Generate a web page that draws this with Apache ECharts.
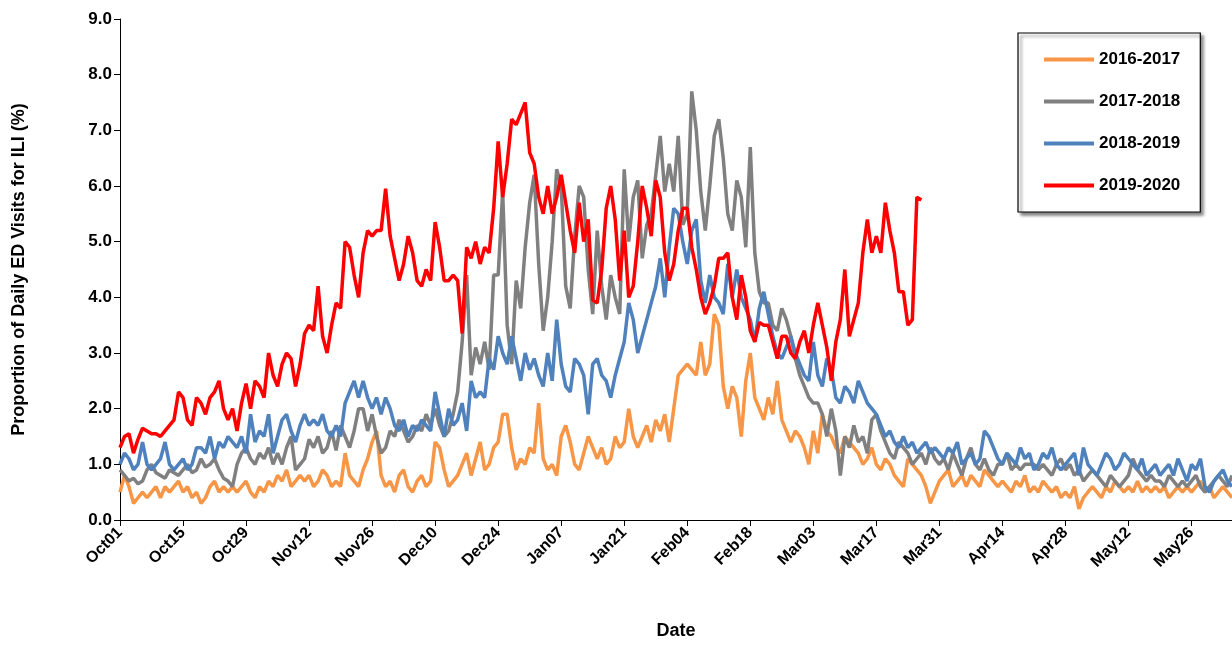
<!DOCTYPE html>
<html>
<head>
<meta charset="utf-8">
<script src="https://cdn.jsdelivr.net/npm/echarts@6/dist/echarts.min.js"></script>
<style>html,body{margin:0;background:#fff}#c{width:1232px;height:645px}</style>
</head>
<body>
<div id="c"></div>
<script>
// ========= 数据 =========
const s1617 = [
 0.5,0.8,0.6,0.3,0.4,0.5,0.4, 0.5,0.6,0.4,0.6,0.5,0.6,0.7, 0.5,0.6,0.4,0.5,0.3,0.4,0.6,
 0.7,0.5,0.6,0.5,0.6,0.5,0.6, 0.7,0.5,0.4,0.6,0.5,0.7,0.6, 0.8,0.7,0.9,0.6,0.7,0.8,0.7,
 0.8,0.6,0.7,0.9,0.8,0.6,0.7, 0.6,1.2,0.8,0.7,0.6,0.9,1.1, 1.4,1.6,0.8,0.6,0.7,0.5,0.8,
 0.9,0.6,0.5,0.7,0.8,0.6,0.7, 1.4,1.3,0.9,0.6,0.7,0.8,1.0, 1.2,0.8,1.1,1.4,0.9,1.0,1.3,
 1.4,1.9,1.9,1.3,0.9,1.1,1.0, 1.3,1.2,2.1,1.1,0.9,1.0,0.8, 1.5,1.7,1.4,1.0,0.9,1.2,1.5,
 1.3,1.1,1.3,1.0,1.1,1.5,1.3, 1.4,2.0,1.5,1.3,1.5,1.7,1.4, 1.8,1.6,1.9,1.4,2.0,2.6,2.7,
 2.8,2.7,2.6,3.2,2.6,2.8,3.7, 3.5,2.4,2.0,2.4,2.2,1.5,2.5, 3.0,2.2,2.0,1.8,2.2,1.9,2.5,
 1.8,1.6,1.4,1.6,1.5,1.3,1.0, 1.6,1.2,1.9,1.6,1.5,1.3,1.2, 1.5,1.4,1.3,1.2,1.0,1.1,1.3,
 1.0,0.9,1.1,1.0,0.8,0.7,0.6, 1.1,1.0,0.9,0.8,0.6,0.3,0.5, 0.7,0.8,0.9,0.6,0.7,0.8,0.6,
 0.8,0.7,0.6,0.9,0.8,0.7,0.6, 0.7,0.6,0.5,0.7,0.6,0.8,0.5, 0.6,0.5,0.7,0.6,0.5,0.6,0.4,
 0.5,0.4,0.6,0.2,0.4,0.5,0.6, 0.5,0.4,0.6,0.5,0.7,0.6,0.5, 0.6,0.5,0.7,0.5,0.6,0.5,0.6,
 0.5,0.6,0.4,0.5,0.6,0.5,0.6, 0.5,0.6,0.7,0.5,0.6,0.4,0.5, 0.6,0.5,0.4
];
const s1718 = [
 0.9,0.8,0.7,0.75,0.65,0.7,0.9, 1.0,0.85,0.8,0.75,0.9,0.85,0.8, 0.9,1.0,0.85,0.9,1.1,0.95,1.0,
 1.1,0.9,0.75,0.7,0.6,1.0,1.2, 1.3,1.1,1.0,1.2,1.1,1.3,1.0, 1.2,1.0,1.3,1.5,0.9,1.0,1.1,
 1.45,1.3,1.5,1.2,1.3,1.6,1.25, 1.7,1.5,1.3,1.6,2.0,2.0,1.6, 1.9,1.5,1.2,1.3,1.6,1.5,1.8,
 1.6,1.4,1.5,1.7,1.6,1.9,1.7, 2.0,1.7,1.5,1.6,1.9,2.3,3.2, 4.4,2.6,3.1,2.8,3.2,2.7,4.4,
 4.4,5.9,3.5,2.8,4.3,3.8,4.9, 5.7,6.2,4.6,3.4,4.0,5.0,6.3, 6.0,4.2,3.8,5.1,6.0,5.8,4.5,
 3.7,5.2,4.2,3.6,4.4,4.0,3.7, 6.3,5.0,5.8,6.1,4.7,5.3,5.5, 6.2,6.9,5.9,6.4,5.9,6.9,5.3,
 5.5,7.7,7.0,5.9,5.2,6.0,6.9, 7.2,6.5,5.5,5.2,6.1,5.8,4.9, 6.7,4.8,4.1,3.9,3.9,3.5,3.4,
 3.8,3.6,3.3,2.9,2.6,2.4,2.2, 2.1,2.1,1.9,1.5,2.0,1.6,0.8, 1.5,1.3,1.7,1.4,1.5,1.2,1.8,
 1.9,1.6,1.4,1.2,1.1,1.4,1.3, 1.2,1.0,1.1,1.2,1.0,1.3,1.1, 1.0,1.1,0.9,1.2,1.0,0.8,1.1,
 1.3,1.0,0.9,1.1,0.9,0.8,1.0, 1.0,1.2,0.9,1.0,0.9,1.0,1.0, 1.0,0.9,1.0,0.9,0.8,1.0,1.1,
 0.9,1.0,0.8,0.9,0.7,0.8,0.9, 0.8,0.7,0.6,0.8,0.7,0.6,0.7, 0.8,1.1,0.9,0.8,0.7,0.8,0.7,
 0.7,0.6,0.8,0.7,0.6,0.7,0.6, 0.7,0.8,0.6,0.5,0.6,0.7,0.8, 0.7,0.6,0.8
];
const s1819 = [
 1.0,1.2,1.1,0.9,1.0,1.4,1.0, 0.9,1.0,1.1,1.4,1.0,0.9,1.0, 1.1,0.9,1.0,1.3,1.3,1.2,1.5,
 1.1,1.4,1.3,1.5,1.4,1.3,1.5, 1.2,1.9,1.4,1.6,1.5,1.9,1.2, 1.5,1.8,1.9,1.6,1.4,1.7,1.9,
 1.7,1.8,1.7,1.9,1.6,1.5,1.7, 1.5,2.1,2.3,2.5,2.2,2.5,2.2, 2.0,2.2,1.9,2.2,2.0,1.7,1.6,
 1.8,1.5,1.7,1.6,1.8,1.7,1.6, 2.3,1.9,1.5,2.0,1.7,1.8,2.1, 1.6,2.5,2.2,2.3,2.2,2.9,2.7,
 3.3,3.0,2.8,3.3,2.9,2.5,3.0, 2.7,2.9,2.6,2.4,3.0,2.5,3.6, 2.8,2.4,2.3,2.9,2.8,2.6,1.9,
 2.8,2.9,2.6,2.5,2.2,2.6,2.9, 3.2,3.9,3.6,3.0,3.3,3.6,3.9, 4.2,4.7,4.0,4.9,5.6,5.5,5.0,
 4.6,5.2,5.4,4.3,3.9,4.4,4.0, 3.9,3.7,4.6,4.0,4.5,4.0,3.8, 3.6,3.2,3.8,4.1,3.7,3.3,3.0,
 2.9,3.1,3.3,3.0,2.8,2.6,2.5, 3.2,2.6,2.4,2.9,2.7,2.2,2.1, 2.4,2.3,2.1,2.5,2.3,2.1,2.0,
 1.9,1.7,1.5,1.6,1.4,1.3,1.5, 1.3,1.4,1.2,1.3,1.4,1.2,1.3, 1.2,1.1,1.3,1.2,1.4,1.0,1.1,
 1.2,1.0,1.1,1.6,1.5,1.3,1.1, 1.0,1.2,1.1,1.0,1.3,1.1,1.2, 0.9,1.0,1.2,1.1,1.3,1.0,0.9,
 1.0,1.1,1.2,0.8,1.3,1.0,0.9, 0.8,1.0,1.2,1.1,0.9,1.0,1.2, 1.1,1.0,0.9,1.1,0.8,0.9,1.0,
 0.8,0.9,1.0,0.8,1.1,0.9,0.7, 1.0,0.9,1.1,0.6,0.5,0.7,0.8, 0.9,0.7,0.6
];
const s1920 = [
 1.3,1.5,1.55,1.2,1.45,1.65,1.6, 1.55,1.55,1.5,1.6,1.7,1.8,2.3, 2.2,1.8,1.7,2.2,2.1,1.9,2.2,
 2.3,2.5,2.0,1.8,2.0,1.6,2.1, 2.45,2.0,2.5,2.4,2.2,3.0,2.6, 2.4,2.8,3.0,2.9,2.4,2.8,3.35,
 3.5,3.4,4.2,3.3,3.0,3.5,3.9, 3.8,5.0,4.9,4.4,4.0,4.8,5.2, 5.1,5.2,5.2,5.95,5.1,4.7,4.3,
 4.6,5.1,4.8,4.3,4.2,4.5,4.3, 5.35,4.9,4.3,4.3,4.4,4.3,3.35, 4.9,4.7,5.0,4.6,4.9,4.8,5.6,
 6.8,5.8,6.4,7.2,7.1,7.3,7.5, 6.6,6.4,5.8,5.5,6.0,5.5,5.8, 6.2,5.7,5.2,4.8,5.7,5.0,5.4,
 3.95,3.9,4.5,5.6,6.0,5.4,4.3, 5.2,4.0,4.2,5.0,6.0,5.6,5.1, 6.1,5.8,4.8,4.3,4.6,5.2,5.6,
 5.6,4.9,4.5,4.0,3.7,3.9,4.2, 4.7,4.7,4.8,4.0,3.6,4.4,4.0, 3.4,3.2,3.55,3.5,3.5,3.2,2.9,
 3.3,3.3,3.0,2.9,3.2,3.4,3.0, 3.5,3.9,3.5,3.1,2.5,3.2,3.6, 4.5,3.3,3.6,3.9,4.8,5.4,4.8,
 5.1,4.8,5.7,5.2,4.8,4.1,4.1, 3.5,3.6,5.8,5.75
];
const months = ["Oct","Nov","Dec","Jan","Feb","Mar","Apr","May","Jun"];
const monthDays = [31,30,31,31,29,31,30,31,30];

// 日期标签 Oct01 ... Jun
const dates = [];
months.forEach((m, i) => {
    for (let d = 1; d <= monthDays[i]; d++) dates.push(m + String(d).padStart(2, "0"));
});
const cats = dates.slice(0, s1617.length);

const chart = echarts.init(document.getElementById("c"));
const mk = (name, data, color) => ({
    name, type: "line", data, showSymbol: false, symbol: "none",
    lineStyle: { width: 3.5, color }, itemStyle: { color }
});
chart.setOption({
    animation: false,
    textStyle: { fontFamily: "Liberation Sans, Arial, sans-serif" },
    grid: { left: 120, right: 0, top: 19, bottom: 123, containLabel: false },
    legend: {
        orient: "vertical", left: 1018, top: 33, width: 210,
        itemGap: 25, itemWidth: 50, itemHeight: 4,
        padding: [18, 20, 18, 26],
        backgroundColor: "#fff", borderColor: "#000", borderWidth: 1.2,
        shadowColor: "rgba(0,0,0,0.5)", shadowBlur: 3, shadowOffsetX: 3, shadowOffsetY: 3,
        textStyle: { fontSize: 17, fontWeight: "bold", color: "#000" },
        icon: "rect",
        data: ["2016-2017", "2017-2018", "2018-2019", "2019-2020"]
    },
    xAxis: {
        type: "category", data: cats, boundaryGap: false,
        name: "Date", nameLocation: "middle", nameGap: 102,
        nameTextStyle: { fontSize: 18, fontWeight: "bold", color: "#000" },
        axisLine: { lineStyle: { color: "#000" } },
        axisTick: { interval: 13, length: 6, lineStyle: { color: "#000" } },
        axisLabel: { interval: 13, rotate: 45, fontSize: 16, fontWeight: "bold", color: "#000", margin: 10 }
    },
    yAxis: {
        type: "value", min: 0, max: 9, interval: 1,
        name: "Proportion of Daily ED Visits for ILI (%)", nameLocation: "middle", nameGap: 92,
        nameTextStyle: { fontSize: 18, fontWeight: "bold", color: "#000" },
        splitLine: { show: false },
        axisLine: { show: true, lineStyle: { color: "#000" } },
        axisTick: { show: true, length: 6, lineStyle: { color: "#000" } },
        axisLabel: { fontSize: 17, fontWeight: "bold", color: "#000", formatter: v => v.toFixed(1) }
    },
    series: [
        mk("2016-2017", s1617, "#F79646"),
        mk("2017-2018", s1718, "#808080"),
        mk("2018-2019", s1819, "#4F81BD"),
        mk("2019-2020", s1920, "#FF0000")
    ]
});
</script>
</body>
</html>
